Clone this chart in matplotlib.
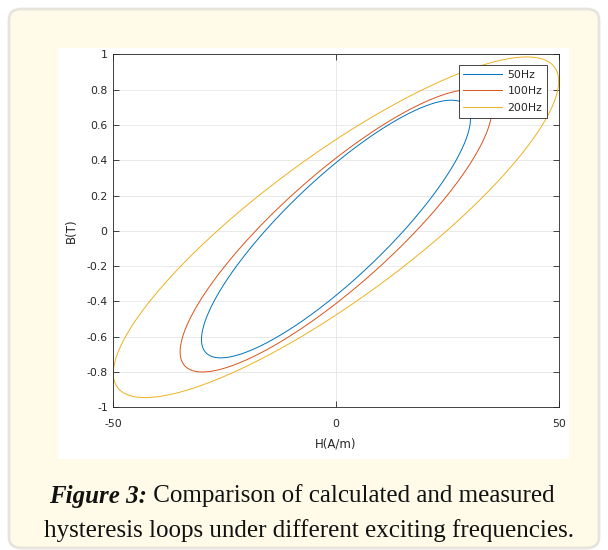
import numpy as np
import matplotlib
matplotlib.use("Agg")
import matplotlib.pyplot as plt
from matplotlib.patches import FancyBboxPatch, Rectangle

# ---- data (loop parameters per exciting frequency) ----
freq_labels = ["50Hz", "100Hz", "200Hz"]
H_peak = [30.2, 35.0, 50.0]          # A/m, peak field of each loop
B_peak = [0.73, 0.80, 0.965]         # T, peak induction of each loop
B_offset = [0.01, 0.0, 0.02]         # T, vertical centre of each loop
phase_lag_deg = [31.0, 31.0, 31.0]   # lag of B behind H (loop width)

x_ticks = [-50, 0, 50]
y_ticks = [-1, -0.8, -0.6, -0.4, -0.2, 0, 0.2, 0.4, 0.6, 0.8, 1]
y_tick_labels = ["-1", "-0.8", "-0.6", "-0.4", "-0.2", "0", "0.2", "0.4", "0.6", "0.8", "1"]
colors = ["#0072BD", "#D95319", "#EDB120"]

caption_bold = "Figure 3:"
caption_rest1 = " Comparison of calculated and measured"
caption_line2 = "hysteresis loops under different exciting frequencies."

W, Hh = 608, 550
fig = plt.figure(figsize=(W / 100, Hh / 100), dpi=100)
fig.patch.set_facecolor("white")

def fx(px):
    return px / W

def fy(py):
    return 1 - py / Hh

# cream rounded panel
panel = FancyBboxPatch((fx(9), fy(548)), fx(590), 539 / Hh,
                       boxstyle="round,pad=0,rounding_size=0.02",
                       transform=fig.transFigure, facecolor="#fffbe8",
                       edgecolor="#e6e4dc", linewidth=2.0, zorder=-3)
fig.patches.append(panel)
# white chart area
fig.patches.append(Rectangle((fx(58), fy(459)), fx(511), 411.3 / Hh,
                             transform=fig.transFigure, facecolor="white",
                             edgecolor="none", zorder=-2))

ax = fig.add_axes([fx(113.3), fy(407.3), fx(445.4), 353 / Hh])
ax.set_facecolor("white")

t = np.linspace(0, 2 * np.pi, 1441)
for lab, hm, bm, b0, ph, c in zip(freq_labels, H_peak, B_peak, B_offset, phase_lag_deg, colors):
    Hc = hm * np.cos(t)
    Bc = b0 + bm * np.cos(t - np.deg2rad(ph))
    ax.plot(Hc, Bc, color=c, lw=0.7, label=lab)

ax.set_xlim(-50, 50)
ax.set_ylim(-1, 1)
ax.set_xticks(x_ticks)
ax.set_xticklabels([str(v) for v in x_ticks])
ax.set_yticks(y_ticks)
ax.set_yticklabels(y_tick_labels)

axc = "#262626"
fam = "DejaVu Sans"
for s in ax.spines.values():
    s.set_color(axc)
    s.set_linewidth(0.6)
ax.tick_params(direction="in", length=4, width=0.6, colors=axc, labelsize=7.8,
               top=True, right=True)
ax.tick_params(axis="x", pad=8.5)
ax.tick_params(axis="y", pad=4)
for lbl in ax.get_xticklabels() + ax.get_yticklabels():
    lbl.set_fontfamily(fam)
ax.grid(True, color="#e5e5e5", linewidth=0.6)
ax.set_axisbelow(True)

ax.set_xlabel("H(A/m)", fontsize=8.5, family=fam, color=axc, labelpad=6)
ax.set_ylabel("B(T)", fontsize=8.5, family=fam, color=axc, labelpad=6.5)

leg = ax.legend(loc="upper right", bbox_to_anchor=(0.974, 0.970), borderaxespad=0,
                fancybox=False, framealpha=1, edgecolor=axc,
                handlelength=3.6, handletextpad=0.45, labelspacing=0.6,
                borderpad=0.45, prop={"family": fam, "size": 7.8})
leg.get_frame().set_linewidth(0.6)
for txt in leg.get_texts():
    txt.set_color(axc)

# caption
cap_size = 18.0
renderer = fig.canvas.get_renderer()
tb = fig.text(0, fy(496), caption_bold, fontsize=cap_size, family="Liberation Serif",
              fontweight="bold", fontstyle="italic", va="center", ha="left", color="#111111")
tr = fig.text(0, fy(496), caption_rest1, fontsize=cap_size, family="Liberation Serif",
              va="center", ha="left", color="#111111")
wb = tb.get_window_extent(renderer).width
wr = tr.get_window_extent(renderer).width
start = (W / 2 - 2) - (wb + wr) / 2
tb.set_x(fx(start))
tr.set_x(fx(start + wb))
fig.text(fx(W / 2 + 5), fy(531), caption_line2, fontsize=cap_size, family="Liberation Serif",
         va="center", ha="center", color="#111111")

fig.savefig("out.png", dpi=100, facecolor=fig.get_facecolor())
